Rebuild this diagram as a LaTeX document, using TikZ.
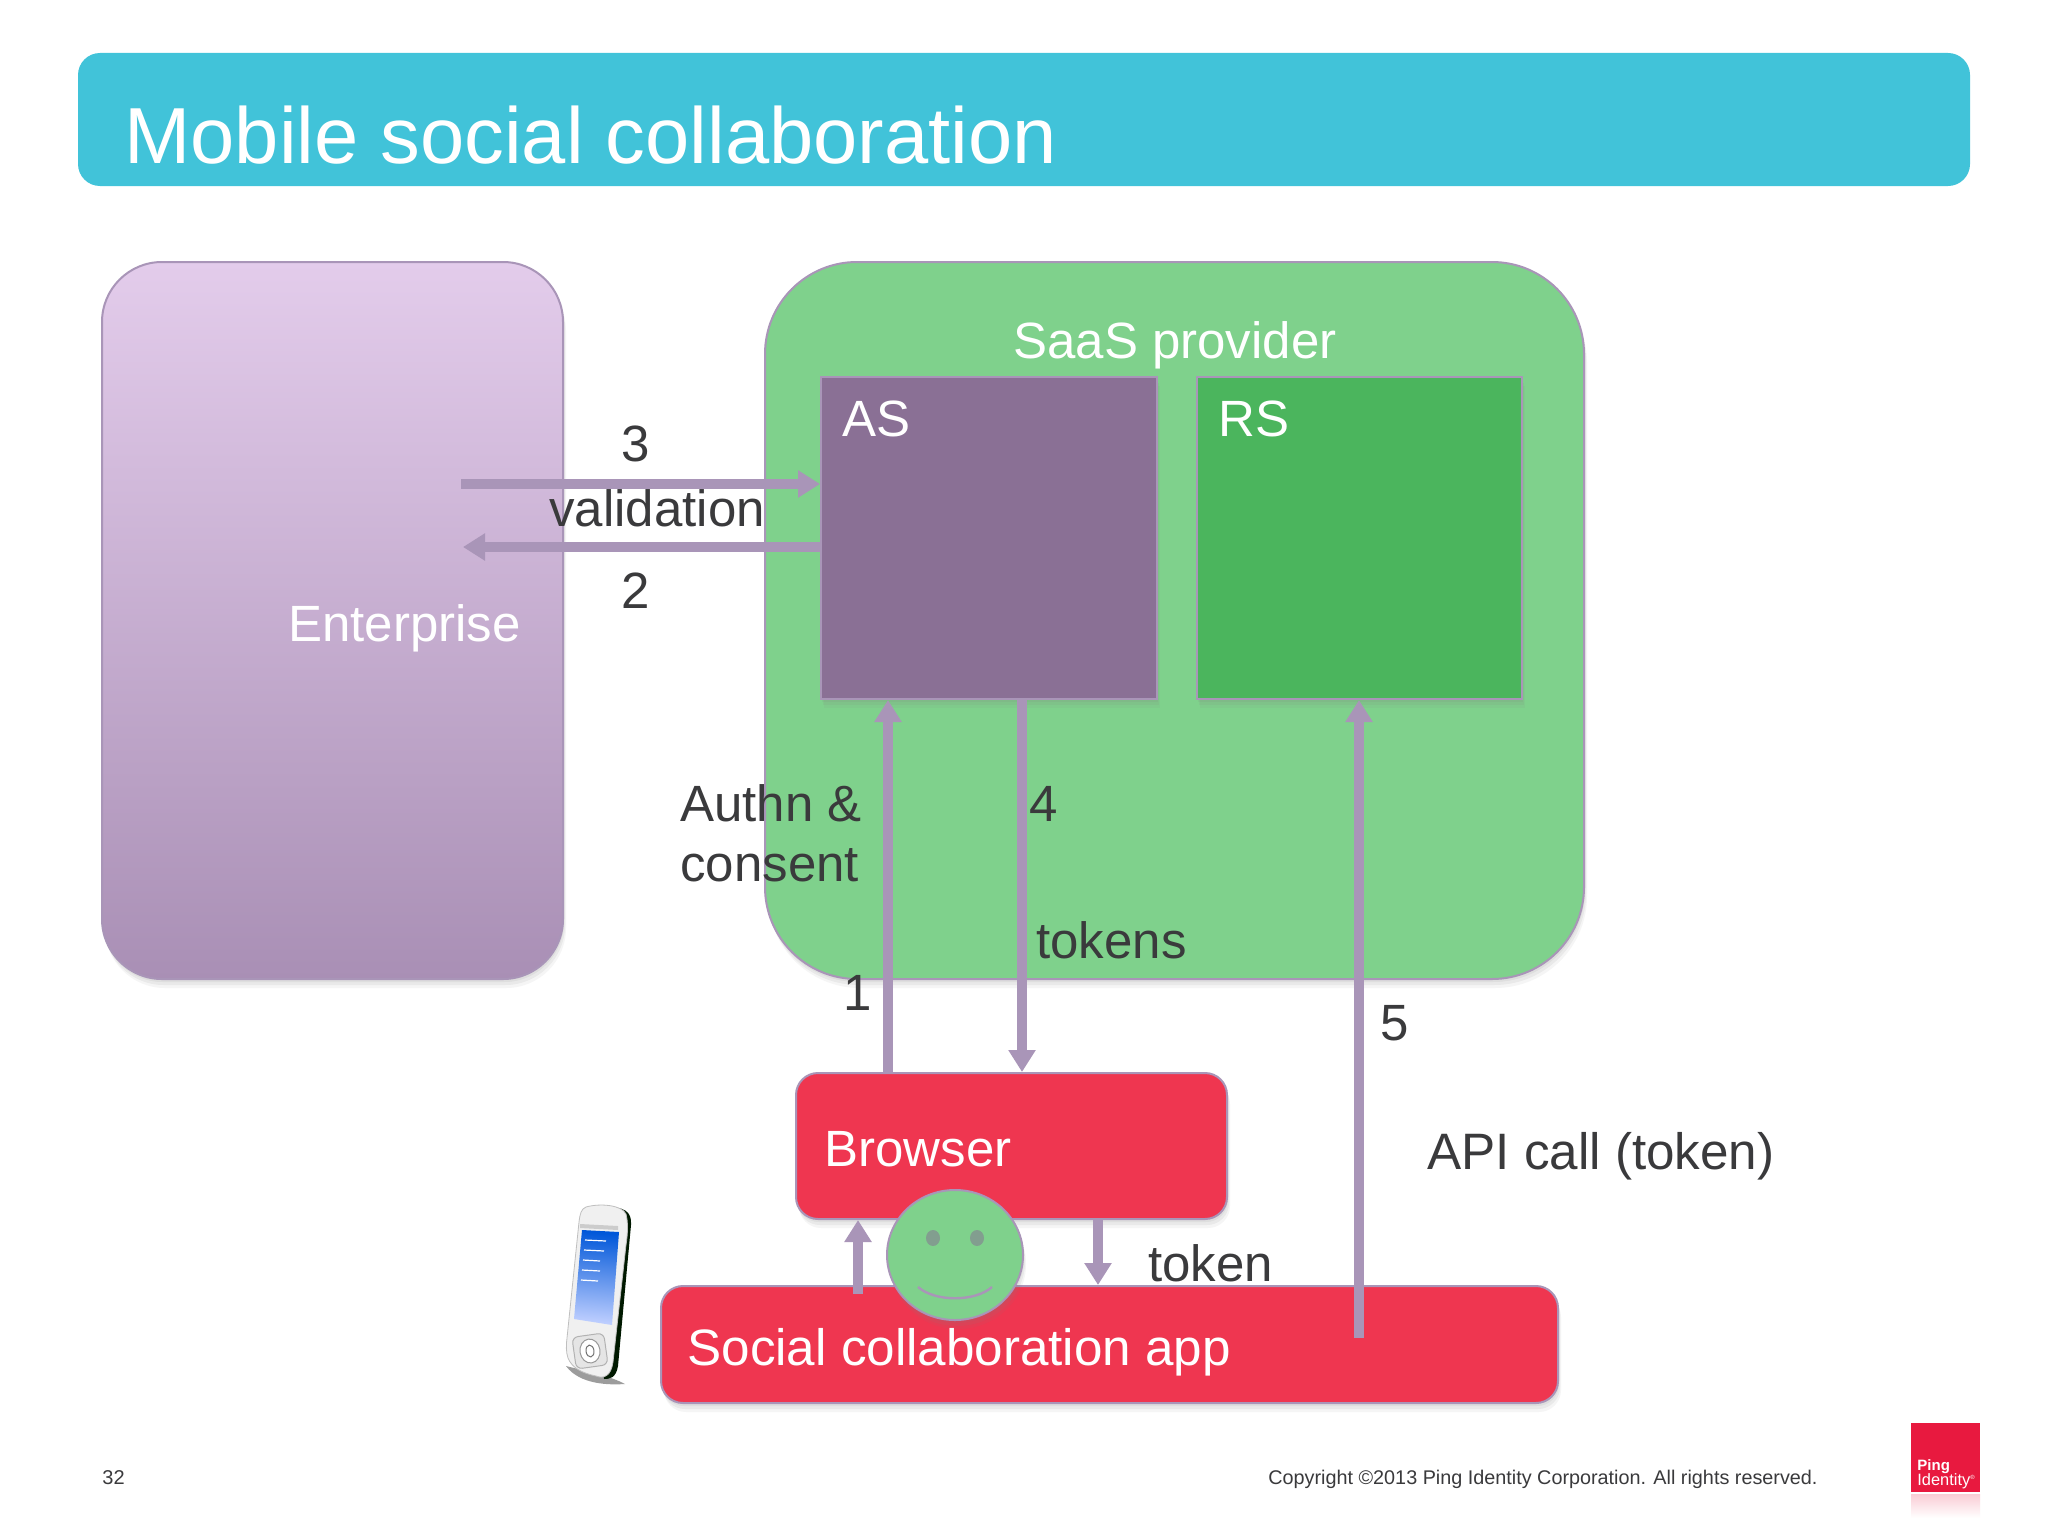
\documentclass[tikz,border=0pt]{standalone}
\usepackage{fontspec}
\setmainfont{Liberation Sans}
\usetikzlibrary{arrows.meta,shadows,shapes.geometric,positioning}
\definecolor{banner}{HTML}{41C3D9}
\definecolor{lineclr}{HTML}{A995B8}
\definecolor{saas}{HTML}{7FD18C}
\definecolor{asbox}{HTML}{8A7095}
\definecolor{rsbox}{HTML}{4BB55D}
\definecolor{redbox}{HTML}{EF3650}
\definecolor{enttop}{HTML}{E3CCEB}
\definecolor{entbot}{HTML}{A98FB5}
\definecolor{txt}{HTML}{3A3A3C}
\definecolor{logored}{HTML}{E8193F}
\tikzset{
  softshadow/.style={
    drop shadow={opacity=.10,shadow xshift=0.5pt,shadow yshift=-1.5pt},
    drop shadow={opacity=.10,shadow xshift=1pt,shadow yshift=-3pt},
    drop shadow={opacity=.08,shadow xshift=1.5pt,shadow yshift=-4.5pt}},
  box/.style={draw=lineclr,line width=1pt,inner sep=0pt,softshadow},
  flow/.style={draw=lineclr,line width=5pt,-{Triangle[length=11pt,width=13pt]},shorten >=0pt},
  lab/.style={anchor=base west,inner sep=0pt,font=\fontsize{25.5pt}{30pt}\selectfont,text=txt},
  wlab/.style={lab,text=white},
}
\newcommand{\pbox}[6]{% name, x0, y0, x1, y1, style
  \node[#6,minimum width={(#4-#2)*0.5pt},minimum height={(#5-#3)*0.5pt}] (#1) at ({(#2+#4)/2},{(#3+#5)/2}) {};}
\begin{document}
\begin{tikzpicture}[x=0.5pt,y=-0.5pt]
\useasboundingbox (0,0) rectangle (2048,1536);
\fill[white] (0,0) rectangle (2048,1536);
% banner
\pbox{title}{78}{53}{1970}{186}{fill=banner,rounded corners=11pt,inner sep=0pt}
\node[lab,text=white,font=\fontsize{39.75pt}{46pt}\selectfont] (titletext) at (124,163) {Mobile social collaboration};
% large containers
\pbox{ent}{102}{262}{563}{979}{box,top color=enttop,bottom color=entbot,rounded corners=30pt}
\pbox{saasbox}{765}{262}{1584}{979}{box,fill=saas,rounded corners=46pt}
\pbox{as}{821}{377}{1157}{699}{box,fill=asbox}
\pbox{rs}{1197}{377}{1522}{699}{box,fill=rsbox}
\pbox{browser}{796}{1073}{1227}{1219}{box,fill=redbox,rounded corners=11pt}
\pbox{app}{661}{1286}{1558}{1403}{box,fill=redbox,rounded corners=11pt}
% connectors
\coordinate (c3) at (461,484);
\coordinate (c2) at (463,547);
\coordinate (c1) at (888,1000);
\coordinate (c4) at (1022,1000);
\coordinate (c5) at (1359,1338);
\coordinate (c6) at (858,1294);
\coordinate (c7) at (1098,1230);
\draw[flow] (c3) -- (as.west |- c3);
\draw[flow] (as.west |- c2) -- (c2);
\draw[flow] (c1 |- browser.north) -- (c1 |- as.south);
\draw[flow] (c4 |- as.south) -- (c4 |- browser.north);
\draw[flow] (c5) -- (c5 |- rs.south);
\draw[flow] (c6) -- (c6 |- browser.south);
\draw[flow] (c7 |- browser.south) -- (c7 |- app.north);
% face
\node[ellipse,box,fill=saas,minimum width=68pt,minimum height=65pt] (face) at (955,1255) {};
\fill[lineclr!50!saas!88!black] (933,1238) ellipse (3.5pt and 4pt) (977,1238) ellipse (3.5pt and 4pt);
\draw[lineclr,line width=1.2pt] (918,1287) .. controls (935,1302) and (975,1302) .. (992,1287);
% labels
\node[wlab] (saaslab) at (1013,358) {SaaS provider};
\node[wlab] (aslab) at (842,436) {AS};
\node[wlab] (rslab) at (1218,436) {RS};
\node[wlab] (entlab) at (288,641) {Enterprise};
\node[lab] (n3) at (621,461) {3};
\node[lab] (val) at (549,526) {validation};
\node[lab] (n2) at (621,608) {2};
\node[lab] (authn) at (680,821) {Authn \&};
\node[lab] (consent) at (680,881) {consent};
\node[lab] (n4) at (1029,821) {4};
\node[lab] (tokens) at (1036,958) {tokens};
\node[lab] (n1) at (843,1010) {1};
\node[lab] (n5) at (1380,1040) {5};
\node[lab,font=\fontsize{25.6pt}{30pt}\selectfont] (api) at (1427,1169) {API call (token)};
\node[wlab] (brlab) at (824,1166) {Browser};
\node[lab] (tok) at (1148,1281) {token};
\node[wlab,font=\fontsize{25.6pt}{30pt}\selectfont] (applab) at (687,1365) {Social collaboration app};
% phone
\fill[black!70,opacity=.55] (566,1366) .. controls (580,1385) and (610,1385) .. (625,1384) .. controls (610,1376) and (590,1372) .. (566,1366) -- cycle;
\fill[black!75!green!40!black] (600,1208) .. controls (625,1205) and (632,1212) .. (631,1225) -- (618,1366) .. controls (616,1378) and (610,1379) .. (604,1379) -- cycle;
\filldraw[draw=black!25,fill=black!6,line width=.4pt] (586,1207) .. controls (600,1203) and (622,1205) .. (626,1214) .. controls (628,1222) and (628,1232) .. (626,1245) -- (613,1362) .. controls (611,1376) and (604,1379) .. (596,1376) .. controls (582,1373) and (572,1368) .. (568,1358) .. controls (566,1352) and (566,1345) .. (567,1338) -- (579,1222) .. controls (580,1214) and (581,1209) .. (586,1207) -- cycle;
\shade[top color=blue!60!cyan!85!black,bottom color=cyan!25!blue!25,shading angle=-5] (582,1230) -- (619,1232) -- (612,1325) -- (574,1319) -- cycle;
\draw[white,line width=.6pt] (585,1240) -- (606,1241) (584,1250) -- (604,1251) (583,1260) -- (600,1261) (582,1270) -- (600,1271) (581,1280) -- (598,1281);
\fill[black!20] (580,1224) -- (618,1226) -- (618,1230) -- (580,1228) -- cycle;
\draw[black!30,line width=.5pt,fill=black!10,rotate around={8:(590,1351)},rounded corners=3pt] (574,1335) rectangle (606,1367);
\draw[black!40,line width=.5pt,fill=white,rotate around={8:(590,1351)}] (590,1351) ellipse (5pt and 6pt);
\draw[black!55,line width=.5pt,rotate around={8:(590,1351)}] (590,1351) ellipse (2pt and 3pt);
% footer
\node[lab,font=\fontsize{10pt}{12pt}\selectfont] (pg) at (102,1484) {32};
\node[lab,font=\fontsize{9.9pt}{12pt}\selectfont] (copy) at (1268,1484) {Copyright ©2013 Ping Identity Corporation. All rights reserved.};
% logo
\pbox{logo}{1911}{1423}{1980}{1492}{fill=logored,inner sep=0pt}
\shade[top color=logored!22,bottom color=white] (1911,1494) rectangle (1980,1518);
\node[lab,text=white,font=\fontsize{7.5pt}{9pt}\bfseries\selectfont] (ping) at (1917,1470) {Ping};
\node[lab,text=white,font=\fontsize{8.2pt}{9pt}\selectfont] (ident) at (1917,1485) {Identity\raisebox{3pt}{\fontsize{3pt}{3pt}\selectfont ®}};
\end{tikzpicture}
\end{document}
